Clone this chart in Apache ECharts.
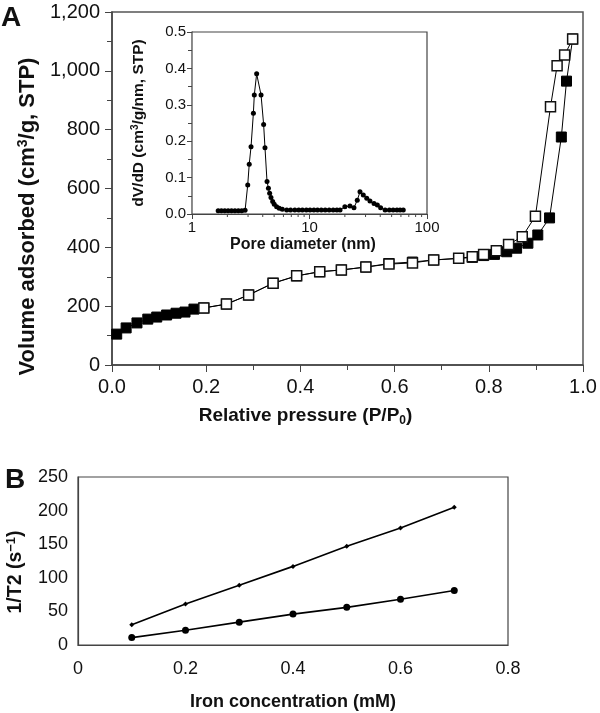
<!DOCTYPE html>
<html><head><meta charset="utf-8">
<script src="https://cdn.jsdelivr.net/npm/echarts@6/dist/echarts.min.js"></script>
<style>html,body{margin:0;padding:0;background:#fff}#c{width:600px;height:713px}</style>
</head><body><div id="c"></div>
<script>
// Panel A: nitrogen isotherm
const adsorptionP = [0.01,0.03,0.053,0.076,0.095,0.116,0.136,0.155,0.174,0.195,0.243,0.29,0.342,0.392,0.441,0.487,0.539,0.588,0.638,0.683,0.736,0.765,0.789,0.812,0.838,0.859,0.883,0.904,0.929,0.954,0.965,0.978];
const adsorptionV = [105,126,143,156,163,170,176,180,190,194,207,238,278,303,317,323,333,345,350,357,362,366,372,376,385,397,414,442,500,775,965,1108];
const desorptionP = [0.978,0.961,0.945,0.931,0.899,0.871,0.842,0.816,0.789,0.765,0.736,0.683,0.638,0.588,0.539,0.487,0.441,0.392,0.342,0.29,0.243,0.195];
const desorptionV = [1108,1054,1017,878,506,436,410,388,376,368,363,357,347,343,333,323,317,303,278,238,207,194];
// Inset: pore size distribution
const poreD = [1.67,1.78,1.9,2.03,2.17,2.32,2.48,2.65,2.83,2.98,3.07,3.18,3.33,3.39,3.55,3.87,4.07,4.18,4.35,4.47,4.58,4.7,4.86,5.01,5.25,5.53,5.87,6.4,6.9,7.5,8.1,8.7,9.4,10.1,10.9,11.7,12.6,13.6,14.7,15.9,17.1,18.2,20,22.1,23.9,25.5,26.9,28.7,30.7,32.7,35.4,37.8,40.3,44,47.8,51.5,55.5,59,62.8];
const poreV = [0.009,0.009,0.009,0.009,0.009,0.009,0.009,0.009,0.01,0.08,0.137,0.185,0.277,0.327,0.385,0.327,0.246,0.182,0.089,0.071,0.057,0.045,0.034,0.027,0.02,0.016,0.013,0.011,0.011,0.011,0.011,0.011,0.011,0.011,0.011,0.011,0.011,0.011,0.011,0.011,0.011,0.011,0.02,0.022,0.017,0.038,0.061,0.052,0.043,0.036,0.029,0.025,0.017,0.011,0.011,0.011,0.011,0.011,0.011];
const logMinorTicks = [2,3,4,5,6,7,8,9,20,30,40,50,60,70,80,90];
// Panel B: relaxivity
const ironConc = [0.1,0.2,0.3,0.4,0.5,0.6,0.7];
const invT2Upper = [30,61,89,117,147,174,205];
const invT2Lower = [11,22,34,46,56,68,81];

const FF = '"Liberation Sans", Arial, Helvetica, sans-serif';
const AX = '#444';
const zip = (a,b) => a.map((v,i)=>[v,b[i]]);
const chart = echarts.init(document.getElementById('c'), null, {renderer:'canvas'});

const tickFmt = v => v.toLocaleString('en-US');

chart.setOption({
  animation:false,
  backgroundColor:'#fff',
  textStyle:{fontFamily:FF},
  graphic:[
    {type:'text', left:1, top:4, style:{text:'A', font:'bold 28px '+FF, fill:'#111'}},
    {type:'text', left:5, top:466, style:{text:'B', font:'bold 28px '+FF, fill:'#111'}}
  ],
  grid:[
    {left:112, top:12, width:471, height:353, show:true, borderColor:'#555', borderWidth:1.5, backgroundColor:'#fff', outerBoundsMode:'none', containLabel:false},
    {left:192, top:32, width:235, height:182, show:true, borderColor:'#444', borderWidth:1.2, backgroundColor:'#fff', z:3, outerBoundsMode:'none', containLabel:false},
    {left:78, top:477, width:430, height:168, show:true, borderColor:'#444', borderWidth:1.2, backgroundColor:'#fff', outerBoundsMode:'none', containLabel:false}
  ],
  xAxis:[
    {gridIndex:0, type:'value', min:0, max:1, interval:0.2,
     axisLine:{lineStyle:{color:AX,width:1.5}}, axisTick:{inside:false,length:7,lineStyle:{color:AX}},
     minorTick:{show:true,splitNumber:2,length:5,lineStyle:{color:AX}}, splitLine:{show:false},
     axisLabel:{color:'#111',fontSize:20,margin:12,formatter:v=>v.toFixed(1)},
     name:'Relative pressure (P/P{sub|0})', nameLocation:'middle', nameGap:40,
     nameTextStyle:{fontWeight:'bold',fontSize:19,color:'#111',padding:[0,84,0,0],rich:{sub:{fontSize:12,fontWeight:'bold',verticalAlign:'bottom',padding:[10,0,0,0]}}}},
    {gridIndex:1, type:'log', min:1, max:100, logBase:10,
     axisLine:{lineStyle:{color:AX,width:1.2}}, axisTick:{inside:false,length:5,lineStyle:{color:AX}},
     splitLine:{show:false}, axisLabel:{color:'#111',fontSize:15,margin:6},
     name:'Pore diameter (nm)', nameLocation:'middle', nameGap:23,
     nameTextStyle:{fontWeight:'bold',fontSize:16,color:'#111',padding:[0,13,0,0]}},
    {gridIndex:2, type:'value', min:0, max:0.8, interval:0.2,
     axisLine:{lineStyle:{color:AX,width:1.2}}, axisTick:{show:false}, splitLine:{show:false},
     axisLabel:{color:'#111',fontSize:18,margin:15,formatter:v=>v===0?'0':String(v)},
     name:'Iron concentration (mM)', nameLocation:'middle', nameGap:48,
     nameTextStyle:{fontWeight:'bold',fontSize:18,color:'#111'}}
  ],
  yAxis:[
    {gridIndex:0, type:'value', min:0, max:1200, interval:200,
     axisLine:{lineStyle:{color:AX,width:1.5}}, axisTick:{inside:false,length:7,lineStyle:{color:AX}},
     minorTick:{show:true,splitNumber:2,length:5,lineStyle:{color:AX}}, splitLine:{show:false},
     axisLabel:{color:'#111',fontSize:20,margin:12,formatter:tickFmt},
     name:'Volume adsorbed (cm{sup|3}/g, STP)', nameLocation:'middle', nameGap:71,
     nameTextStyle:{fontWeight:'bold',fontSize:22,color:'#111',padding:[0,56,0,0],rich:{sup:{fontSize:14,fontWeight:'bold',verticalAlign:'top',padding:[0,0,9,0]}}}},
    {gridIndex:1, type:'value', min:0, max:0.5, interval:0.1,
     axisLine:{lineStyle:{color:AX,width:1.2}}, axisTick:{inside:false,length:5,lineStyle:{color:AX}},
     minorTick:{show:true,splitNumber:2,length:4,lineStyle:{color:AX}}, splitLine:{show:false},
     axisLabel:{color:'#111',fontSize:15,margin:6,formatter:v=>v.toFixed(1)},
     name:'dV/dD (cm{sup|3}/g/nm, STP)', nameLocation:'middle', nameGap:45,
     nameTextStyle:{fontWeight:'bold',fontSize:15.5,color:'#111',rich:{sup:{fontSize:10,fontWeight:'bold',verticalAlign:'top',padding:[0,0,7,0]}}}},
    {gridIndex:2, type:'value', min:0, max:250, interval:50,
     axisLine:{lineStyle:{color:AX,width:1.2}}, axisTick:{show:false}, splitLine:{show:false},
     axisLabel:{color:'#111',fontSize:18,margin:10},
     name:'1/T2 (s{sup|−1})', nameLocation:'middle', nameGap:52,
     nameTextStyle:{fontWeight:'bold',fontSize:19.5,color:'#111',padding:[0,22,0,0],rich:{sup:{fontSize:13,fontWeight:'bold',verticalAlign:'top',padding:[0,0,8,0]}}}}
  ],
  series:[
    {type:'line', xAxisIndex:0, yAxisIndex:0, data:zip(adsorptionP,adsorptionV), z:2,
     symbol:'rect', symbolSize:10, lineStyle:{color:'#000',width:1}, itemStyle:{color:'#000',borderColor:'#000',borderWidth:1}},
    {type:'line', xAxisIndex:0, yAxisIndex:0, data:zip(desorptionP,desorptionV), z:4,
     symbol:'rect', symbolSize:10, lineStyle:{color:'#000',width:1}, itemStyle:{color:'#fff',borderColor:'#111',borderWidth:1.5}},
    {type:'line', xAxisIndex:1, yAxisIndex:1, data:zip(poreD,poreV), z:5,
     symbol:'circle', symbolSize:5, lineStyle:{color:'#000',width:1}, itemStyle:{color:'#000'}},
    {type:'custom', xAxisIndex:1, yAxisIndex:1, data:logMinorTicks.map(v=>[v,0]), z:5, silent:true, clip:false,
     renderItem:(p,api)=>{const pt=api.coord([api.value(0),0]);
       return {type:'line', shape:{x1:pt[0],y1:pt[1],x2:pt[0],y2:pt[1]+3}, style:{stroke:AX,lineWidth:1}};}},
    {type:'line', xAxisIndex:2, yAxisIndex:2, data:zip(ironConc,invT2Upper),
     symbol:'diamond', symbolSize:5, lineStyle:{color:'#000',width:1.6}, itemStyle:{color:'#000'}},
    {type:'line', xAxisIndex:2, yAxisIndex:2, data:zip(ironConc,invT2Lower),
     symbol:'circle', symbolSize:7, lineStyle:{color:'#000',width:1.6}, itemStyle:{color:'#000'}}
  ]
});
</script></body></html>
